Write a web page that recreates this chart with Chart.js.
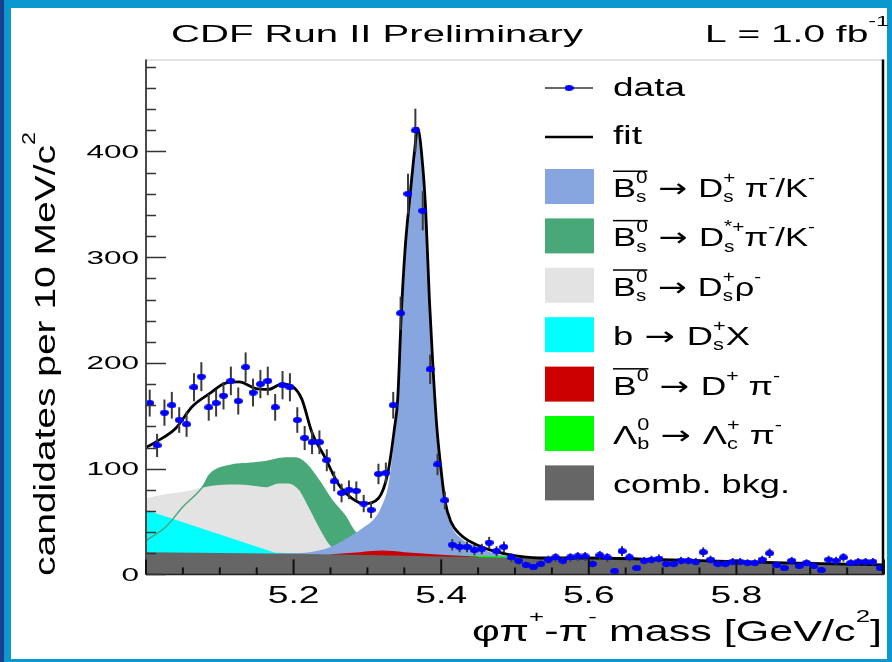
<!DOCTYPE html>
<html>
<head>
<meta charset="utf-8">
<script src="https://cdn.jsdelivr.net/npm/chart.js@4.4.1/dist/chart.umd.min.js"></script>
<style>
html, body { margin: 0; padding: 0; background: #0b98cf; }
canvas { display: block; }
</style>
</head>
<body>
<canvas id="masaChart" width="892" height="662"></canvas>
<script>
const FUENTE = '"Liberation Sans", Arial, Helvetica, sans-serif';
const FLECHA = '"DejaVu Sans", sans-serif';

// histogram: bin centres (GeV/c^2), candidates per 10 MeV/c^2 and their errors
const dataMass = [
    5.005, 5.015, 5.025, 5.035, 5.045, 5.055, 5.065, 5.075, 5.085, 5.095,
    5.105, 5.115, 5.125, 5.135, 5.145, 5.155, 5.165, 5.175, 5.185, 5.195,
    5.205, 5.215, 5.225, 5.235, 5.245, 5.255, 5.265, 5.275, 5.285, 5.295,
    5.305, 5.315, 5.325, 5.335, 5.345, 5.355, 5.365, 5.375, 5.385, 5.395,
    5.405, 5.415, 5.425, 5.435, 5.445, 5.455, 5.465, 5.475, 5.485, 5.495,
    5.505, 5.515, 5.525, 5.535, 5.545, 5.555, 5.565, 5.575, 5.585, 5.595,
    5.605, 5.615, 5.625, 5.635, 5.645, 5.655, 5.665, 5.675, 5.685, 5.695,
    5.705, 5.715, 5.725, 5.735, 5.745, 5.755, 5.765, 5.775, 5.785, 5.795,
    5.805, 5.815, 5.825, 5.835, 5.845, 5.855, 5.865, 5.875, 5.885, 5.895,
    5.905, 5.915, 5.925, 5.935, 5.945, 5.955, 5.965, 5.975, 5.985, 5.995
];
const dataCounts = [
    162, 122, 153, 160, 146, 142, 177, 187, 158, 162,
    169, 183, 164, 196, 172, 180, 183, 158, 179, 177,
    146, 129, 125, 125, 108, 88, 77, 80, 79, 67,
    61, 95, 96, 160, 247, 360, 420, 344, 194, 104,
    70, 28, 26, 26, 23, 24, 30, 22, 26, 16,
    13, 9, 7, 10, 14, 16, 13, 16, 17, 17,
    10, 18, 16, 3, 22, 16, 6, 13, 14, 15,
    10, 10, 13, 13, 12, 21, 14, 10, 10, 12,
    12, 11, 11, 14, 20, 9, 6, 13, 8, 11,
    8, 4, 14, 13, 16, 11, 12, 12, 12, 6
];
const dataErrors = [
    12.7, 11.0, 12.4, 12.6, 12.1, 11.9, 13.3, 13.7, 12.6, 12.7,
    13.0, 13.5, 12.8, 14.0, 13.1, 13.4, 13.5, 12.6, 13.4, 13.3,
    12.1, 11.4, 11.2, 11.2, 10.4, 9.4, 8.8, 8.9, 8.9, 8.2,
    7.8, 9.7, 9.8, 12.6, 15.7, 19.0, 20.5, 18.5, 13.9, 10.2,
    8.4, 5.3, 5.1, 5.1, 4.8, 4.9, 5.5, 4.7, 5.1, 4.0,
    3.6, 3.0, 2.6, 3.2, 3.7, 4.0, 3.6, 4.0, 4.1, 4.1,
    3.2, 4.2, 4.0, 1.7, 4.7, 4.0, 2.4, 3.6, 3.7, 3.9,
    3.2, 3.2, 3.6, 3.6, 3.5, 4.6, 3.7, 3.2, 3.2, 3.5,
    3.5, 3.3, 3.3, 3.7, 4.5, 3.0, 2.4, 3.6, 2.8, 3.3,
    2.8, 2.0, 3.7, 3.6, 4.0, 3.3, 3.5, 3.5, 3.5, 2.4
];

// total fit
const fitMass = [5.000, 5.014, 5.040, 5.063, 5.086, 5.108, 5.126, 5.148, 5.166, 5.184,
    5.198, 5.211, 5.225, 5.243, 5.261, 5.279, 5.296, 5.315, 5.328, 5.337,
    5.341, 5.346, 5.351, 5.358, 5.364, 5.368, 5.375, 5.379, 5.384, 5.389,
    5.394, 5.399, 5.405, 5.413, 5.427, 5.445, 5.467, 5.490, 5.512, 5.534,
    5.600, 5.700, 5.800, 5.900, 6.000];
const fitValues = [120, 125.5, 138, 159, 171, 181, 182, 176, 175, 180,
    178, 166, 134, 110, 85, 72, 67, 72, 97, 140,
    165, 247, 307, 360, 401, 422, 386, 344, 260, 194,
    140, 104, 70, 50, 37, 29, 23, 19, 16.5, 15.5,
    15.5, 14, 12, 10.5, 9];

// fit components (drawn height)
const signalMass = [5.170, 5.215, 5.250, 5.279, 5.296, 5.310, 5.319, 5.328, 5.332, 5.337,
    5.341, 5.346, 5.351, 5.358, 5.364, 5.368, 5.375, 5.379, 5.384, 5.389,
    5.394, 5.399, 5.405, 5.413, 5.427, 5.445, 5.467, 5.490, 5.510];
const signalValues = [19.5, 20.5, 26, 37, 45, 53, 64, 83, 102, 133,
    160, 244, 304, 357, 398, 419, 383, 341, 257, 191,
    137, 101, 67, 47, 34, 27, 21, 17.5, 16.5];

const dstarMass = [5.000, 5.027, 5.050, 5.077, 5.086, 5.117, 5.139, 5.162, 5.189, 5.202,
    5.216, 5.234, 5.252, 5.270, 5.281, 5.300, 5.330, 5.360];
const dstarValues = [32, 45, 64, 83, 94, 103.5, 105, 106.6, 110, 110,
    105, 89, 70, 55, 42, 30, 21, 18];

const rhoMass = [5.000, 5.027, 5.050, 5.072, 5.099, 5.126, 5.148, 5.162, 5.180, 5.193,
    5.207, 5.220, 5.234, 5.247, 5.256, 5.270, 5.300];
const rhoValues = [72, 76, 78, 81.5, 84.6, 85, 83.6, 82.4, 86, 86,
    80, 64, 45, 29.4, 23, 19.5, 18.5];

const bxMass = [5.000, 5.175, 5.300];
const bxValues = [61, 20.5, 18.5];

const b0Mass = [5.250, 5.290, 5.320, 5.350, 5.400, 5.450];
const b0Values = [19, 21, 22.5, 21, 18.5, 16.8];

const lambdaMass = [5.380, 5.410, 5.470, 5.520, 5.550];
const lambdaValues = [17.2, 17.9, 17.3, 15.9, 15.8];

const combMass = [5.0, 5.2, 5.4, 5.6, 5.8, 6.0];
const combValues = [21, 19.5, 17, 14.5, 11.5, 8.5];

const yTickLabels = ['0', '100', '200', '300', '400'];
const xTickLabels = ['5.2', '5.4', '5.6', '5.8'];

const colores = {
    signal: '#87a5de', dstar: '#48a878', rho: '#e3e3e3', bx: '#00ffff',
    b0: '#cc0000', lambda: '#00ff00', comb: '#666666', data: '#0000ff'
};

const pares = (xs, ys) => xs.map((x, i) => ({ x: x, y: ys[i] }));

// elliptic blue marker (the reference is stretched sideways)
const marcador = document.createElement('canvas');
marcador.width = 9;
marcador.height = 6;
const mctx = marcador.getContext('2d');
mctx.fillStyle = colores.data;
mctx.beginPath();
mctx.ellipse(4.5, 3, 4.5, 3, 0, 0, Math.PI * 2);
mctx.fill();

// ---------- text with sub / superscripts, stretched horizontally ----------
function anchoRico(ctx, partes, size) {
    let w = 0;
    partes.forEach(p => {
        ctx.font = size + 'px ' + (p.fam || FUENTE);
        if (p.t) w += ctx.measureText(p.t).width;
        ctx.font = (size * 0.6) + 'px ' + FUENTE;
        const a = p.sup ? ctx.measureText(p.sup).width : 0;
        const b = p.sub ? ctx.measureText(p.sub).width : 0;
        w += Math.max(a, b);
    });
    return w;
}

function textoRico(ctx, partes, x, y, o) {
    const size = o.size;
    const natural = anchoRico(ctx, partes, size);
    const sx = o.width ? o.width / natural : (o.sx || 1);
    const subida = o.rise || 0.54;
    ctx.save();
    ctx.translate(x, y);
    if (o.rotate) ctx.rotate(o.rotate);
    ctx.scale(sx, 1);
    ctx.fillStyle = '#000';
    ctx.textAlign = 'left';
    ctx.textBaseline = 'alphabetic';
    let cx = o.align === 'right' ? -natural : (o.align === 'center' ? -natural / 2 : 0);
    partes.forEach(p => {
        const inicio = cx;
        ctx.font = size + 'px ' + (p.fam || FUENTE);
        if (p.t) {
            ctx.fillText(p.t, cx, 0);
            cx += ctx.measureText(p.t).width;
        }
        ctx.font = (size * 0.6) + 'px ' + FUENTE;
        let sw = 0;
        if (p.sup) {
            ctx.fillText(p.sup, cx, -size * subida);
            sw = ctx.measureText(p.sup).width;
        }
        if (p.sub) {
            ctx.fillText(p.sub, cx, size * 0.2);
            sw = Math.max(sw, ctx.measureText(p.sub).width);
        }
        cx += sw;
        if (p.bar) ctx.fillRect(inicio, -size * 1.02, cx - inicio, 1.5);
    });
    ctx.restore();
}

const flecha = { t: ' \u2192 ', fam: FLECHA };
const leyenda = [
    { tipo: 'punto', ancho: 72, partes: [{ t: 'data' }] },
    { tipo: 'linea', ancho: 29, partes: [{ t: 'fit' }] },
    { tipo: 'caja', ancho: 202, color: colores.signal, partes: [{ t: 'B', sup: '0', sub: 's', bar: true }, flecha, { t: 'D', sup: '+', sub: 's' }, { t: ' \u03C0', sup: '-' }, { t: '/K', sup: '-' }] },
    { tipo: 'caja', ancho: 202, color: colores.dstar, partes: [{ t: 'B', sup: '0', sub: 's', bar: true }, flecha, { t: 'D', sup: '*+', sub: 's' }, { t: '\u03C0', sup: '-' }, { t: '/K', sup: '-' }] },
    { tipo: 'caja', ancho: 148, color: colores.rho, partes: [{ t: 'B', sup: '0', sub: 's', bar: true }, flecha, { t: 'D', sup: '+', sub: 's' }, { t: '\u03C1', sup: '-' }] },
    { tipo: 'caja', ancho: 137, color: colores.bx, partes: [{ t: 'b' }, flecha, { t: 'D', sup: '+', sub: 's' }, { t: 'X' }] },
    { tipo: 'caja', ancho: 167, color: colores.b0, partes: [{ t: 'B', sup: '0', bar: true }, flecha, { t: 'D', sup: '+' }, { t: ' \u03C0', sup: '-' }] },
    { tipo: 'caja', ancho: 169, color: colores.lambda, partes: [{ t: '\u039B', sup: '0', sub: 'b' }, flecha, { t: '\u039B', sup: '+', sub: 'c' }, { t: ' \u03C0', sup: '-' }] },
    { tipo: 'caja', ancho: 177, color: colores.comb, partes: [{ t: 'comb. bkg.' }] }
];

// ---------- plugins ----------
const fondo = {
    id: 'fondo',
    beforeDraw(chart) {
        const ctx = chart.ctx;
        ctx.save();
        ctx.fillStyle = '#0b98cf';
        ctx.fillRect(0, 0, chart.width, chart.height);
        ctx.fillStyle = '#1d3f8e';
        ctx.fillRect(0, 0, 4, chart.height);
        ctx.fillStyle = '#ffffff';
        ctx.fillRect(11, 8, 876, 651);
        ctx.restore();
    }
};

const barrasError = {
    id: 'barrasError',
    beforeDatasetDraw(chart, args) {
        if (args.index !== 0) return;
        const { ctx, scales: { x, y } } = chart;
        ctx.save();
        ctx.strokeStyle = '#3a3a3a';
        ctx.lineWidth = 2;
        dataMass.forEach((m, i) => {
            const px = x.getPixelForValue(m);
            ctx.beginPath();
            ctx.moveTo(px, y.getPixelForValue(dataCounts[i] - dataErrors[i]));
            ctx.lineTo(px, y.getPixelForValue(dataCounts[i] + dataErrors[i]));
            ctx.stroke();
        });
        ctx.restore();
    }
};

const ejes = {
    id: 'ejes',
    afterDatasetsDraw(chart) {
        const { ctx, chartArea: a, scales: { x, y } } = chart;
        ctx.save();
        // frame
        ctx.strokeStyle = '#c8c8c8';
        ctx.lineWidth = 1;
        ctx.beginPath(); ctx.moveTo(a.left, a.top + 0.5); ctx.lineTo(a.right, a.top + 0.5); ctx.stroke();
        ctx.strokeStyle = '#000';
        ctx.lineWidth = 2.5;
        ctx.beginPath(); ctx.moveTo(a.right - 1, a.top); ctx.lineTo(a.right - 1, a.bottom); ctx.stroke();
        ctx.strokeStyle = '#4a4a4a';
        ctx.lineWidth = 2;
        ctx.beginPath(); ctx.moveTo(a.left, a.top); ctx.lineTo(a.left, a.bottom); ctx.stroke();
        ctx.strokeStyle = '#222';
        ctx.lineWidth = 1.5;
        ctx.beginPath(); ctx.moveTo(a.left, a.bottom); ctx.lineTo(a.right, a.bottom); ctx.stroke();

        // y ticks, inside, every 20
        ctx.strokeStyle = '#333';
        ctx.lineWidth = 1.5;
        for (let v = 0; v <= 480; v += 20) {
            const py = Math.round(y.getPixelForValue(v)) + 0.5;
            const largo = v % 100 === 0 ? 20 : 10;
            ctx.beginPath(); ctx.moveTo(a.left, py); ctx.lineTo(a.left + largo, py); ctx.stroke();
        }
        // x ticks, inside, every 0.05
        ctx.strokeStyle = '#111';
        ctx.lineWidth = 2;
        for (let k = 0; k <= 20; k++) {
            const px = x.getPixelForValue(5 + k * 0.05);
            const largo = k % 4 === 0 ? 15 : 7;
            ctx.beginPath(); ctx.moveTo(px, a.bottom); ctx.lineTo(px, a.bottom - largo); ctx.stroke();
        }
        ctx.restore();
    },
    afterDraw(chart) {
        const { ctx, scales: { x, y } } = chart;
        yTickLabels.forEach(l => {
            textoRico(ctx, [{ t: l }], 139, y.getPixelForValue(parseFloat(l)) + 6.3, { size: 18, sx: 1.75, align: 'right' });
        });
        xTickLabels.forEach(l => {
            textoRico(ctx, [{ t: l }], x.getPixelForValue(parseFloat(l)), 603, { size: 23, sx: 1.62, align: 'center' });
        });
        textoRico(ctx, [{ t: 'CDF Run II Preliminary' }], 171, 42, { size: 24, width: 412 });
        textoRico(ctx, [{ t: 'L = 1.0 fb', sup: '-1' }], 705, 42, { size: 24, width: 184, rise: 0.66 });
        textoRico(ctx, [{ t: '\u03C6\u03C0', sup: '+' }, { t: '-\u03C0', sup: '-' }, { t: ' mass [GeV/c', sup: '2' }, { t: ']' }],
            882, 641, { size: 29, width: 410, align: 'right', rise: 0.66 });
        textoRico(ctx, [{ t: 'candidates per 10 MeV/c', sup: '2' }], 55, 576, { size: 30, width: 444, rotate: -Math.PI / 2, rise: 0.66 });

        // legend
        const lx = 545, tx = 613;
        leyenda.forEach((e, i) => {
            ctx.save();
            let base;
            if (e.tipo === 'punto') {
                ctx.strokeStyle = '#333'; ctx.lineWidth = 1.5;
                ctx.beginPath(); ctx.moveTo(lx, 88); ctx.lineTo(lx + 48, 88); ctx.stroke();
                ctx.drawImage(marcador, lx + 24 - 4.5, 85);
                base = 96;
            } else if (e.tipo === 'linea') {
                ctx.strokeStyle = '#000'; ctx.lineWidth = 2.5;
                ctx.beginPath(); ctx.moveTo(lx, 137); ctx.lineTo(lx + 48, 137); ctx.stroke();
                base = 144;
            } else {
                const top = 169 + 49.4 * (i - 2);
                ctx.fillStyle = e.color;
                ctx.fillRect(lx, top, 49, 35);
                base = top + 28;
            }
            ctx.restore();
            textoRico(ctx, e.partes, tx, base, { size: 26, width: e.ancho });
        });
    }
};

const masaCtx = document.getElementById('masaChart').getContext('2d');
const masaChart = new Chart(masaCtx, {
    type: 'line',
    data: {
        datasets: [
            {
                label: 'data', data: pares(dataMass, dataCounts), showLine: false,
                pointStyle: marcador, pointRadius: 4, order: 0
            },
            {
                label: 'fit', data: pares(fitMass, fitValues), borderColor: '#000', borderWidth: 2.8,
                pointRadius: 0, fill: false, cubicInterpolationMode: 'monotone', order: 1
            },
            {
                label: 'comb. bkg.', data: pares(combMass, combValues), borderColor: colores.comb, borderWidth: 0,
                backgroundColor: colores.comb, pointRadius: 0, fill: 'origin', cubicInterpolationMode: 'monotone', order: 2
            },
            {
                label: 'B0 -> D+ pi-', data: pares(b0Mass, b0Values), borderColor: colores.b0, borderWidth: 0,
                backgroundColor: colores.b0, pointRadius: 0, fill: 'origin', cubicInterpolationMode: 'monotone', order: 3
            },
            {
                label: 'Lambda_b -> Lambda_c pi', data: pares(lambdaMass, lambdaValues), borderColor: colores.lambda, borderWidth: 0,
                backgroundColor: colores.lambda, pointRadius: 0, fill: 'origin', cubicInterpolationMode: 'monotone', order: 4
            },
            {
                label: 'Bs -> Ds pi/K', data: pares(signalMass, signalValues), borderColor: colores.signal, borderWidth: 0,
                backgroundColor: colores.signal, pointRadius: 0, fill: 'origin', cubicInterpolationMode: 'monotone', order: 5
            },
            {
                label: 'Bs -> Ds* pi/K line', data: pares(dstarMass, dstarValues), borderColor: colores.dstar, borderWidth: 1.5,
                pointRadius: 0, fill: false, cubicInterpolationMode: 'monotone', order: 6
            },
            {
                label: 'b -> Ds X', data: pares(bxMass, bxValues), borderColor: colores.bx, borderWidth: 0,
                backgroundColor: colores.bx, pointRadius: 0, fill: 'origin', tension: 0, order: 7
            },
            {
                label: 'Bs -> Ds rho', data: pares(rhoMass, rhoValues), borderColor: colores.rho, borderWidth: 0,
                backgroundColor: colores.rho, pointRadius: 0, fill: 'origin', cubicInterpolationMode: 'monotone', order: 8
            },
            {
                label: 'Bs -> Ds* pi/K', data: pares(dstarMass, dstarValues), borderColor: colores.dstar, borderWidth: 0,
                backgroundColor: colores.dstar, pointRadius: 0, fill: 'origin', cubicInterpolationMode: 'monotone', order: 9
            }
        ]
    },
    options: {
        responsive: false,
        animation: false,
        layout: { padding: { left: 146, right: 8, top: 59.5, bottom: 87.6 } },
        scales: {
            x: { type: 'linear', min: 5.0, max: 6.0, display: false },
            y: { type: 'linear', min: 0, max: 487, display: false }
        },
        plugins: {
            legend: { display: false },
            tooltip: { enabled: false }
        }
    },
    plugins: [fondo, barrasError, ejes]
});
</script>
</body>
</html>
